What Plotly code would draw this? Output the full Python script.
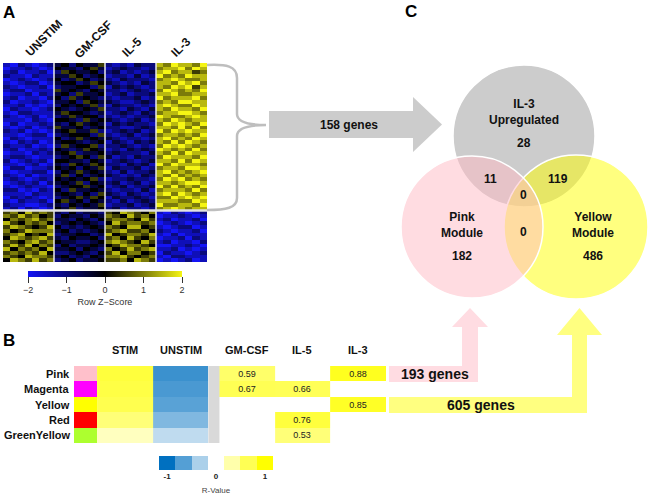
import plotly.graph_objects as go

W, H = 651, 498
FONT = "Liberation Sans, Arial, sans-serif"


def px(x):
    return x / W


def py(y):
    return 1 - y / H


# ---------------- Panel A data (row z-scores, digit d -> (d-4)/2) ----------------
conditions_A = ["UNSTIM", "GM-CSF", "IL-5", "IL-3"]
n_rep = 7
rows_top = [
    "1021012 3424335 2121322 7687768", "0112101 4332453 1232212 6778687",
    "1201120 2543342 2312123 7867756", "2110211 3354234 1221312 8676877",
    "0121012 4235423 2132221 6787667", "1012201 3442354 3212132 7768786",
    "2101120 2334425 1323212 7687857", "1220111 5343243 2212321 6876768",
    "0112021 3425334 1231223 7786677", "1201102 4253432 2122312 8677786",
    "2011210 3342543 3211232 6768877", "1120101 2434352 1322121 7876687",
    "0211012 4323435 2213213 7687768", "1022111 3544323 1232132 6778876",
    "2101201 2353442 2121223 8766787", "1110210 4432534 3212312 7687677",
    "0201121 3245343 1323221 6878768", "1012012 5334234 2211232 7768686",
    "2120101 3453352 1232312 8687877", "1101220 2344425 2123123 6776768",
    "0210111 4235343 3212212 7867687", "1021201 3443234 1321323 7686876",
    "2112010 2534452 2232121 6878767", "1201121 4323543 1213232 8767686",
    "0110212 3452334 2322213 7686877", "1221011 2345425 3121322 6877768",
    "2012120 4433243 1232123 7768687", "1101201 3254354 2213231 8687776",
    "0220112 4342435 1322312 6776887", "1011220 2435343 2131223 7867678",
    "2102011 3524234 3212132 7686767", "1210121 4343452 1223221 6878676",
    "0121202 3435243 2312312 7767887", "1012110 2344534 1231223 8686768",
    "2201021 4253343 2122131 6777686", "1110211 3432425 3213212 7868767",
    "0212101 2345354 1322321 6687878", "1021120 4534243 2131232 7776687",
    "2110012 3243435 1223123 8667768", "1202101 4352334 2312212 6787677",
]
rows_bottom = [
    "5647565 3242332 5476546 1021012", "6575645 2433243 6547564 0112101",
    "4656756 3324324 5665475 1201120", "7546564 2343432 4756656 0121012",
    "5765457 4232343 6547745 1012201", "6457666 3423234 5675564 2101120",
    "5674547 2334423 7456657 1020111", "4765675 3243342 5647546 0112021",
    "6546756 4332234 6765475 1201102", "5757465 2423343 4576654 0011210",
    "7465647 3342432 6457567 1120101", "5656574 2234324 5746645 0211012",
    "6547665 3423243 6675456 1022111", "4765756 2342334 5564765 0101201",
]
zscore_ticks = [-2, -1, 0, 1, 2]

# ---------------- Panel B data ----------------
modules = ["Pink", "Magenta", "Yellow", "Red", "GreenYellow"]
module_colors = ["#FFC0CB", "#FF00FF", "#FFFF00", "#FF0000", "#ADFF2F"]
stim_r = [0.76, 0.73, 0.69, 0.53, 0.25]
unstim_r = [-0.77, -0.71, -0.65, -0.50, -0.25]
gmcsf_r = [0.59, 0.67, None, None, None]
il5_r = [None, 0.66, None, 0.76, 0.53]
il3_r = [0.88, None, 0.85, None, None]
b_headers = ["STIM", "UNSTIM", "GM-CSF", "IL-5", "IL-3"]
legend_r = [-1, -0.67, -0.33, None, 0.33, 0.67, 1]
legend_ticks = ["-1", "0", "1"]

# ---------------- Panel C data ----------------
arrow_genes = [158, 193, 605]
venn_names = ["IL-3<br>Upregulated", "Pink<br>Module", "Yellow<br>Module"]
venn_only = [28, 182, 486]
il3_pink, il3_yellow, pink_yellow, all_three = 11, 119, 0, 0

fig = go.Figure()

# ---- Panel A heatmap ----
rows_all = rows_top + rows_bottom
z_A = [[(int(c) - 4) / 2 for c in r.replace(" ", "")] for r in rows_all]
fig.add_trace(go.Heatmap(
    z=z_A, xaxis="x", yaxis="y", zmin=-2, zmax=2,
    colorscale=[[0, "rgb(20,20,245)"], [0.5, "rgb(0,0,0)"], [1, "rgb(245,245,20)"]],
    hoverinfo="skip",
    colorbar=dict(orientation="h", x=px(105), xanchor="center", len=154 / W, lenmode="fraction",
                  y=py(271), yanchor="top", thickness=6, xpad=0, ypad=0,
                  tickvals=zscore_ticks, ticktext=[str(t).replace("-", "−") for t in zscore_ticks],
                  ticks="outside", ticklen=6, tickcolor="#333", outlinewidth=0,
                  tickfont=dict(size=9, color="#333", family=FONT),
                  title=dict(text="Row Z−Score", side="bottom", font=dict(size=9, color="#333", family=FONT))),
))

# ---- Panel B table ----
col_w = [23, 56, 55, 11, 55, 55, 56]
edges = [0]
for w in col_w:
    edges.append(edges[-1] + w)
n_mod = len(modules)
row_edges = [i - 0.5 for i in range(n_mod + 1)]
main_cols = [stim_r, unstim_r, [None] * n_mod, gmcsf_r, il5_r, il3_r]
z_B = [[c[i] for c in main_cols] for i in range(n_mod)]
t_B = [["" if (j < 2 or c[i] is None) else f"{c[i]:.2f}" for j, c in enumerate(main_cols)] for i in range(n_mod)]
r_scale = [[0, "rgb(0,112,192)"], [0.5, "rgb(255,255,255)"], [1, "rgb(255,255,0)"]]
fig.add_trace(go.Heatmap(
    z=z_B, x=edges[1:], y=row_edges, text=t_B, texttemplate="%{text}",
    textfont=dict(size=9, color="#222", family=FONT),
    zmin=-1, zmax=1, colorscale=r_scale, showscale=False, xaxis="x2", yaxis="y2", hoverinfo="skip"))
# swatches
sw_scale = []
for i, c in enumerate(module_colors):
    sw_scale.append([i / n_mod, c])
    sw_scale.append([(i + 1) / n_mod, c])
fig.add_trace(go.Heatmap(
    z=[[i + 0.5] for i in range(n_mod)], x=edges[0:2], y=row_edges, zmin=0, zmax=n_mod,
    colorscale=sw_scale, showscale=False, xaxis="x2", yaxis="y2", hoverinfo="skip"))
# gray separator column
fig.add_trace(go.Heatmap(
    z=[[0] for _ in range(n_mod)], x=edges[3:5], y=row_edges,
    colorscale=[[0, "rgb(217,217,217)"], [1, "rgb(217,217,217)"]], showscale=False,
    xaxis="x2", yaxis="y2", hoverinfo="skip"))
# R legend
fig.add_trace(go.Heatmap(
    z=[legend_r], zmin=-1, zmax=1, colorscale=r_scale, showscale=False,
    xaxis="x4", yaxis="y4", hoverinfo="skip"))

# invisible trace for overlay pixel axis
fig.add_trace(go.Scatter(x=[0], y=[0], mode="markers", marker=dict(opacity=0),
                         xaxis="x3", yaxis="y3", hoverinfo="skip", showlegend=False))

shapes = []
annotations = []

# Panel A separators
n_rows = len(rows_all)
for g in range(1, len(conditions_A)):
    xg = g * n_rep - 0.5
    shapes.append(dict(type="line", xref="x", yref="y", x0=xg, x1=xg, y0=-0.5, y1=n_rows - 0.5,
                       line=dict(color="rgb(235,235,235)", width=1.5), layer="above"))
shapes.append(dict(type="line", xref="x", yref="y", x0=-0.5, x1=len(conditions_A) * n_rep - 0.5,
                   y0=len(rows_top) - 0.5, y1=len(rows_top) - 0.5,
                   line=dict(color="rgb(225,225,225)", width=2.5), layer="above"))

# column labels A (rotated)
lab_pos = [(44, 38), (93, 40), (132, 47), (181, 47)]
for name, (lx, ly) in zip(conditions_A, lab_pos):
    annotations.append(dict(text=f"<b>{name}</b>", x=lx, y=ly, xref="x3", yref="y3", showarrow=False,
                            textangle=-45, font=dict(size=12, color="#111", family=FONT)))

# brace
shapes.append(dict(type="path", xref="x3", yref="y3", layer="above",
                   path="M 207,65 C 226,64 237,66 237,78 L 237,114 C 237,122 250,125 266,125 "
                        "C 250,125 237,128 237,136 L 237,198 C 237,208 226,210 207,210",
                   line=dict(color="rgb(190,190,190)", width=2.5)))

# gray arrow
shapes.append(dict(type="path", xref="x3", yref="y3", layer="above",
                   path="M 269,111 L 413,111 L 413,97 L 442,124.5 L 413,152 L 413,138 L 269,138 Z",
                   fillcolor="rgb(204,204,204)", line=dict(width=0)))
annotations.append(dict(text=f"<b>{arrow_genes[0]} genes</b>", x=349, y=124.5, xref="x3", yref="y3",
                        showarrow=False, font=dict(size=12, color="#111", family=FONT)))

# pink & yellow arrows
shapes.append(dict(type="path", xref="x3", yref="y3", layer="above",
                   path="M 389,366 L 462,366 L 462,327 L 452,327 L 470,308 L 488,327 L 478,327 L 478,382 L 389,382 Z",
                   fillcolor="rgb(255,220,226)", line=dict(width=0)))
shapes.append(dict(type="path", xref="x3", yref="y3", layer="above",
                   path="M 389,397 L 572,397 L 572,335 L 557,335 L 579.5,308 L 602,335 L 587,335 L 587,413 L 389,413 Z",
                   fillcolor="rgb(255,255,128)", line=dict(width=0)))
annotations.append(dict(text=f"<b>{arrow_genes[1]} genes</b>", x=435, y=374, xref="x3", yref="y3",
                        showarrow=False, font=dict(size=14, color="#111", family=FONT)))
annotations.append(dict(text=f"<b>{arrow_genes[2]} genes</b>", x=481, y=405, xref="x3", yref="y3",
                        showarrow=False, font=dict(size=14, color="#111", family=FONT)))

# Venn circles
circles = [((524, 136, 71), "rgba(204,204,204,1)"),
           ((576, 227, 72), "rgba(255,255,0,0.5)"),
           ((472, 227, 71), "rgba(255,185,195,0.5)")]
for (cx, cy, r), col in circles:
    shapes.append(dict(type="circle", xref="x3", yref="y3", x0=cx - r, x1=cx + r, y0=cy - r, y1=cy + r,
                       fillcolor=col, line=dict(color="white", width=1.5), layer="above"))

venn_text = [
    (f"<b>{venn_names[0]}</b>", 524, 112, 12),
    (f"<b>{venn_only[0]}</b>", 524, 143, 12),
    (f"<b>{venn_names[1]}</b>", 462, 225, 12),
    (f"<b>{venn_only[1]}</b>", 462, 256, 12),
    (f"<b>{venn_names[2]}</b>", 593, 225, 12),
    (f"<b>{venn_only[2]}</b>", 593, 256, 12),
    (f"<b>{il3_pink}</b>", 490, 179, 12),
    (f"<b>{il3_yellow}</b>", 558, 179, 12),
    (f"<b>{all_three}</b>", 523, 195, 12),
    (f"<b>{pink_yellow}</b>", 523, 232, 12),
]
for t, x, y, s in venn_text:
    annotations.append(dict(text=t, x=x, y=y, xref="x3", yref="y3", showarrow=False,
                            font=dict(size=s, color="#111", family=FONT)))

# panel letters
for letter, x, y in [("A", 9, 12), ("B", 9, 340), ("C", 411, 11)]:
    annotations.append(dict(text=f"<b>{letter}</b>", x=x, y=y, xref="x3", yref="y3", showarrow=False,
                            font=dict(size=17, color="#000", family=FONT)))

# Panel B headers & row labels
hdr_cols = [1, 2, 4, 5, 6]
for h, ci in zip(b_headers, hdr_cols):
    annotations.append(dict(text=f"<b>{h}</b>", x=(edges[ci] + edges[ci + 1]) / 2, y=py(358),
                            xref="x2", yref="paper", showarrow=False,
                            font=dict(size=11, color="#111", family=FONT)))
for i, m in enumerate(modules):
    annotations.append(dict(text=f"<b>{m}</b>", x=px(72), y=i, xref="paper", yref="y2",
                            xanchor="right", showarrow=False, font=dict(size=11, color="#111", family=FONT)))

hidden = dict(visible=False, showgrid=False, zeroline=False)
fig.update_layout(
    width=W, height=H, margin=dict(l=0, r=0, t=0, b=0),
    paper_bgcolor="white", plot_bgcolor="rgba(0,0,0,0)",
    font=dict(family=FONT), showlegend=False,
    xaxis=dict(domain=[px(3), px(207)], range=[-0.5, len(conditions_A) * n_rep - 0.5], anchor="y", **hidden),
    yaxis=dict(domain=[py(262), py(63)], range=[n_rows - 0.5, -0.5], anchor="x", **hidden),
    xaxis2=dict(domain=[px(74), px(386)], range=[0, edges[-1]], anchor="y2", **hidden),
    yaxis2=dict(domain=[py(443), py(366)], range=[n_mod - 0.5, -0.5], anchor="x2", **hidden),
    xaxis3=dict(domain=[0, 1], range=[0, W], anchor="y3", **hidden),
    yaxis3=dict(domain=[0, 1], range=[H, 0], anchor="x3", **hidden),
    xaxis4=dict(domain=[px(159), px(273)], range=[-0.5, len(legend_r) - 0.5], anchor="y4",
                showgrid=False, zeroline=False, showline=False, tickvals=[0, 3, 6],
                ticktext=[f"<b>{t}</b>" for t in legend_ticks],
                ticks="", tickfont=dict(size=8, color="#222", family=FONT),
                title=dict(text="R-Value", font=dict(size=8, color="#444", family=FONT), standoff=7)),
    yaxis4=dict(domain=[py(470), py(456)], range=[-0.5, 0.5], anchor="x4", **hidden),
    shapes=shapes, annotations=annotations,
)

fig.write_html("out.html", config={"displayModeBar": False, "staticPlot": True},
               post_script="document.body.style.margin='0';document.body.style.overflow='hidden';")
